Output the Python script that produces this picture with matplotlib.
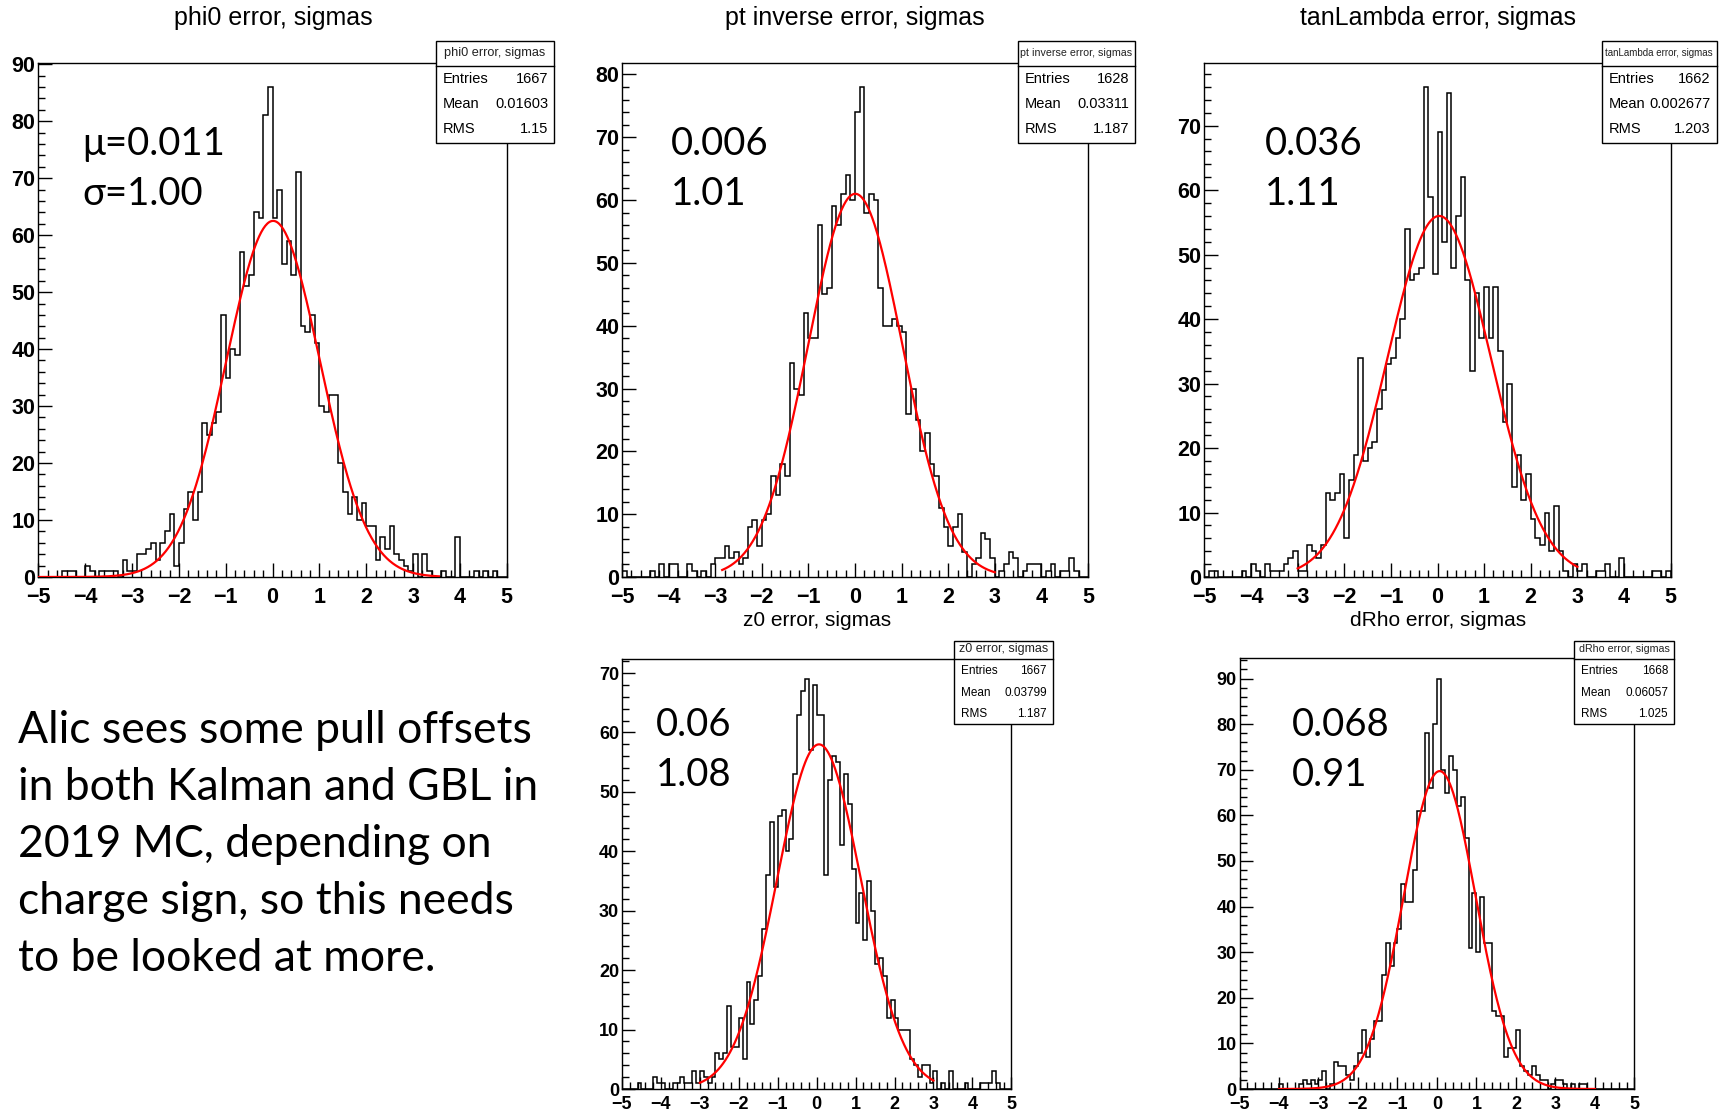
"""
Pull distributions (ROOT-style histograms with gaussian fits)
"""
import numpy as np
import matplotlib.pyplot as plt
from matplotlib.patches import Rectangle
from matplotlib.lines import Line2D
from matplotlib.ticker import MultipleLocator

plt.rcParams['font.family'] = ['Liberation Sans', 'DejaVu Sans']

W, H = 1720, 1110    # figure size in pixels
edges = np.linspace(-5, 5, 101)    # 100 bins of 0.1

titles = ["phi0 error, sigmas", "pt inverse error, sigmas", "tanLambda error, sigmas",
          "z0 error, sigmas", "dRho error, sigmas"]

phi0_counts = [0, 0, 0, 0, 0, 1, 1, 1, 0, 0,
               2, 1, 0, 1, 1, 1, 1, 0, 3, 1,
               1, 4, 4, 5, 6, 3, 6, 8, 11, 2,
               6, 12, 15, 10, 15, 27, 25, 27, 29, 46,
               35, 40, 39, 57, 51, 53, 64, 63, 81, 86,
               63, 68, 55, 59, 53, 71, 44, 43, 46, 41,
               30, 29, 32, 32, 20, 15, 11, 14, 10, 13,
               9, 9, 3, 7, 5, 9, 4, 3, 2, 1,
               4, 0, 4, 1, 0, 0, 1, 0, 0, 7,
               0, 0, 0, 1, 0, 1, 0, 1, 0, 0]

ptinv_counts = [1, 0, 0, 0, 0, 0, 1, 0, 2, 0,
                2, 2, 0, 0, 2, 1, 0, 1, 0, 2,
                3, 3, 5, 3, 4, 2, 3, 8, 9, 5,
                9, 10, 16, 13, 18, 16, 34, 30, 29, 42,
                38, 38, 56, 45, 46, 59, 56, 61, 64, 60,
                74, 78, 58, 61, 60, 46, 40, 40, 41, 40,
                39, 26, 30, 25, 20, 23, 18, 16, 11, 8,
                5, 8, 10, 4, 0, 2, 3, 7, 6, 3,
                0, 1, 2, 4, 3, 0, 1, 2, 2, 2,
                0, 1, 2, 0, 1, 1, 3, 1, 0, 0]

tanl_counts = [0, 1, 1, 0, 0, 0, 0, 0, 1, 0,
               2, 1, 0, 2, 1, 1, 1, 2, 3, 4,
               1, 1, 5, 4, 3, 5, 13, 12, 13, 16,
               6, 15, 19, 34, 18, 20, 21, 26, 29, 33,
               34, 37, 40, 54, 46, 47, 48, 76, 59, 47,
               69, 52, 75, 48, 56, 62, 46, 32, 44, 37,
               45, 37, 45, 35, 24, 30, 14, 19, 12, 16,
               9, 6, 5, 10, 4, 11, 4, 1, 0, 2,
               1, 2, 0, 0, 1, 1, 2, 0, 0, 3,
               0, 0, 0, 0, 0, 0, 1, 1, 0, 1]

z0_counts = [0, 0, 0, 0, 1, 0, 0, 0, 2, 1,
             1, 0, 0, 1, 1, 2, 1, 1, 3, 1,
             3, 2, 1, 2, 6, 5, 6, 14, 7, 7,
             12, 5, 18, 11, 15, 19, 27, 36, 45, 34,
             46, 47, 40, 42, 53, 63, 67, 69, 57, 68,
             63, 63, 36, 52, 56, 55, 41, 53, 48, 37,
             28, 33, 25, 35, 30, 21, 22, 19, 12, 15,
             12, 10, 10, 10, 5, 4, 2, 4, 4, 1,
             3, 0, 1, 0, 3, 0, 0, 0, 1, 0,
             0, 0, 1, 1, 1, 3, 1, 0, 0, 0]

drho_counts = [0, 0, 0, 0, 0, 0, 0, 0, 0, 0,
               1, 0, 0, 0, 0, 1, 2, 1, 2, 1,
               2, 4, 0, 1, 6, 5, 5, 3, 2, 5,
               8, 13, 7, 11, 15, 15, 25, 32, 27, 32,
               35, 45, 41, 41, 48, 61, 61, 78, 66, 80,
               90, 70, 65, 73, 70, 62, 64, 55, 31, 43,
               30, 42, 32, 32, 17, 16, 16, 7, 9, 9,
               13, 5, 4, 3, 5, 3, 2, 2, 0, 1,
               2, 2, 1, 0, 1, 0, 1, 1, 0, 0,
               0, 0, 0, 0, 0, 0, 0, 0, 0, 0]

entries = ["1667", "1628", "1662", "1667", "1668"]
means = ["0.01603", "0.03311", "0.002677", "0.03799", "0.06057"]
rms = ["1.15", "1.187", "1.203", "1.187", "1.025"]

# gaussian fit results (amplitude, mean, sigma, fit range)
fit_amp = [62.5, 61.0, 56.0, 58.0, 69.7]
fit_mu = [0.011, 0.006, 0.036, 0.06, 0.068]
fit_sigma = [1.00, 1.01, 1.11, 1.08, 0.91]
fit_lo = [-5.0, -2.85, -3.0, -3.0, -4.0]
fit_hi = [3.55, 3.0, 3.0, 3.0, 4.0]

fit_text_top = ["\u03bc=0.011", "0.006", "0.036", "0.06", "0.068"]
fit_text_bottom = ["\u03c3=1.00", "1.01", "1.11", "1.08", "0.91"]

note_lines = ["Alic sees some pull offsets",
              "in both Kalman and GBL in",
              "2019 MC, depending on",
              "charge sign, so this needs",
              "to be looked at more."]

x_ticks = [-5, -4, -3, -2, -1, 0, 1, 2, 3, 4, 5]

all_counts = [phi0_counts, ptinv_counts, tanl_counts, z0_counts, drho_counts]

# layout in pixels: axes (left, top, right, bottom)
axes_px = [(38.4, 62.5, 506.8, 577), (622, 62.5, 1088, 577), (1204.4, 62.5, 1670.6, 577),
           (622, 658.5, 1011.3, 1089), (1239.5, 658, 1634.4, 1089)]
# stats boxes
big_box = dict(top=40.6, bottom=142.6, sep=65.8, ty=52.7, rows=(79, 104.2, 129.4))
small_box = dict(top=640.6, bottom=724, sep=659, ty=649.4, rows=(671.3, 693.2, 714))
box_x = [(435.5, 554), (1018, 1135), (1601.5, 1716.6), (954, 1053), (1574, 1674)]
box_title_size = [9.2, 7.7, 7.0, 9.0, 7.7]
title_xy = [(273, 17.5), (854.5, 17.5), (1438, 17.5), (817, 621), (1438, 621)]
fit_text_x = [82, 671, 1265, 656, 1292]


def fx(x):
    return x / W


def fy(y):
    return 1 - y / H


fig = plt.figure(figsize=(W / 100, H / 100), dpi=100)

for i in range(5):
    l, t, r, b = axes_px[i]
    ax = fig.add_axes([fx(l), fy(b), (r - l) / W, (b - t) / H])
    counts = np.array(all_counts[i])
    big = i < 3

    ax.stairs(counts, edges, color='black', lw=1.1, baseline=0, zorder=2)
    xs = np.linspace(fit_lo[i], fit_hi[i], 400)
    ys = fit_amp[i] * np.exp(-0.5 * ((xs - fit_mu[i]) / fit_sigma[i]) ** 2)
    ax.plot(xs, ys, color='red', lw=1.6, zorder=3)

    ymax = counts.max() * 1.05
    ax.set_xlim(-5, 5)
    ax.set_ylim(0, ymax)
    tsize = 15.5 if big else 13
    y_ticks = list(range(0, int(ymax) + 1, 10))
    ax.set_xticks(x_ticks)
    ax.set_xticklabels([f"\u2212{abs(v)}" if v < 0 else str(v) for v in x_ticks],
                       fontweight='bold', fontsize=tsize)
    ax.set_yticks(y_ticks)
    ax.set_yticklabels([str(v) for v in y_ticks], fontweight='bold', fontsize=tsize)
    ax.xaxis.set_minor_locator(MultipleLocator(0.2))
    ax.yaxis.set_minor_locator(MultipleLocator(2))
    ax.tick_params(which='both', direction='in', top=False, right=False, width=1.0)
    ax.tick_params(which='major', length=10 if big else 9)
    ax.tick_params(axis='y', which='major', pad=2)
    ax.tick_params(axis='x', which='major', pad=7.5 if big else 5)
    ax.tick_params(which='minor', length=5)
    for sp in ax.spines.values():
        sp.set_linewidth(1.0)

    # titles
    tx, ty = title_xy[i]
    fig.text(fx(tx), fy(ty), titles[i], ha='center', va='center', fontsize=18 if big else 15)

    # fit result numbers
    if big:
        y1, y2 = 154.7, 205
    else:
        y1, y2 = 736, 786.5
    fig.text(fx(fit_text_x[i]), fy(y1), fit_text_top[i], fontsize=27.5, va='baseline',
             family=['Lato', 'DejaVu Sans'])
    fig.text(fx(fit_text_x[i]), fy(y2), fit_text_bottom[i], fontsize=27.5, va='baseline',
             family=['Lato', 'DejaVu Sans'])

    # stats box
    bx = big_box if big else small_box
    bl, br = box_x[i]
    fig.add_artist(Rectangle((fx(bl), fy(bx['bottom'])), (br - bl) / W, (bx['bottom'] - bx['top']) / H,
                             transform=fig.transFigure, facecolor='white', edgecolor='black',
                             lw=1.0, zorder=10))
    fig.add_artist(Line2D([fx(bl), fx(br)], [fy(bx['sep']), fy(bx['sep'])],
                          transform=fig.transFigure, color='black', lw=1.0, zorder=11))
    fig.text(fx((bl + br) / 2), fy(bx['ty']), titles[i], ha='center', va='center',
             fontsize=box_title_size[i], color='#222222', zorder=12)
    rsize = 10.5 if big else 8.5
    for name, val, ry in zip(["Entries", "Mean", "RMS"], [entries[i], means[i], rms[i]], bx['rows']):
        fig.text(fx(bl + 7), fy(ry), name, ha='left', va='center', fontsize=rsize, zorder=12)
        fig.text(fx(br - 6), fy(ry), val, ha='right', va='center', fontsize=rsize, zorder=12)

# comment on the left
for j, line in enumerate(note_lines):
    fig.text(fx(18), fy(742.6 + j * 57.04), line, fontsize=32, va='baseline',
             family=['Lato', 'DejaVu Sans'])

fig.savefig('out.png', dpi=100)
